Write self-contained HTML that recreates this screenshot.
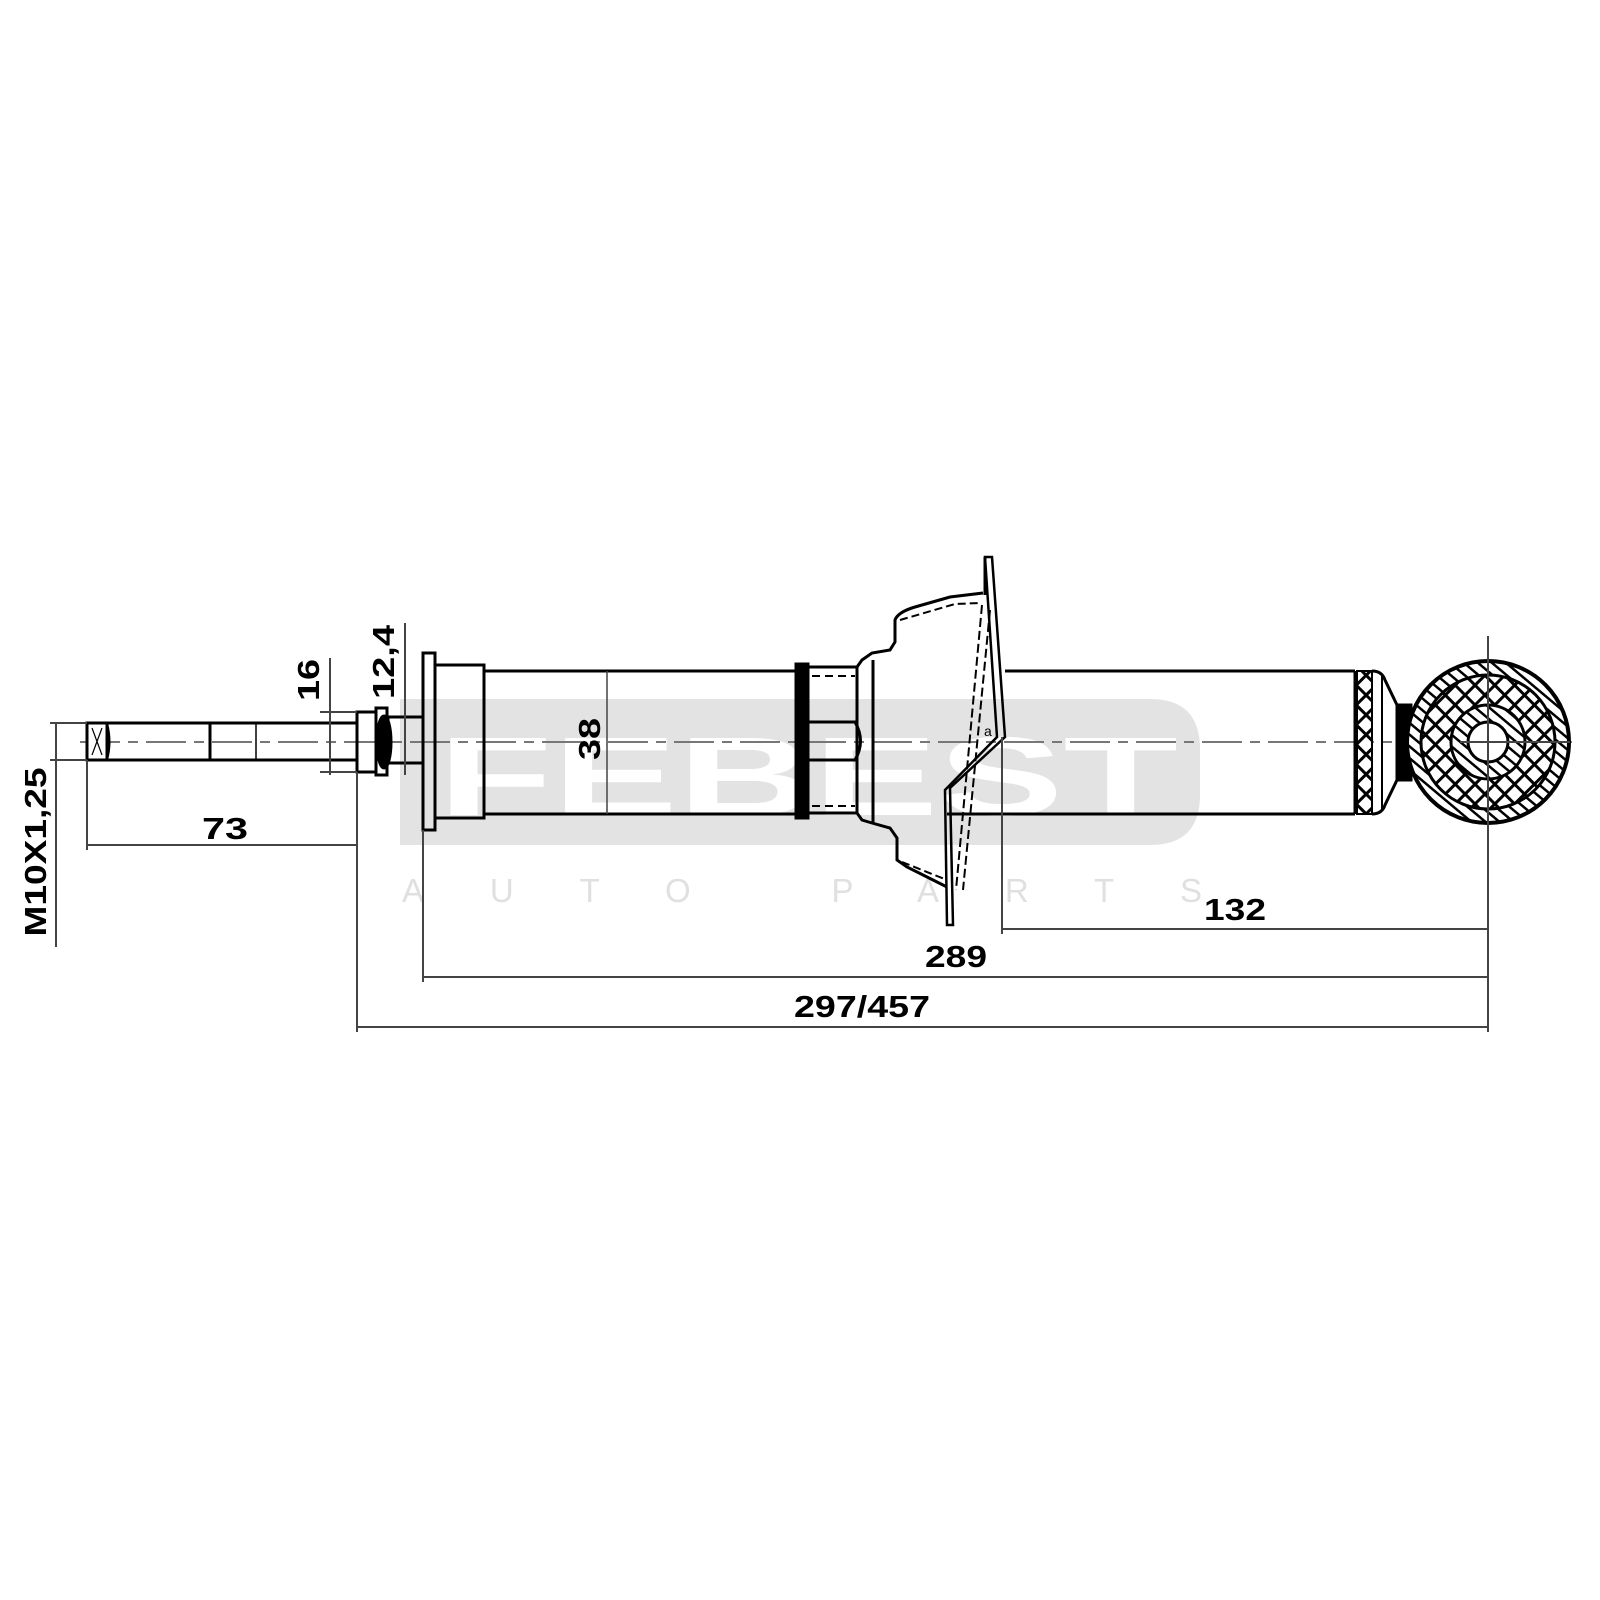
<!DOCTYPE html>
<html><head><meta charset="utf-8"><style>html,body{margin:0;padding:0;background:#fff}svg{display:block}</style></head>
<body>
<svg width="1600" height="1600" viewBox="0 0 1600 1600" xmlns="http://www.w3.org/2000/svg" font-family="Liberation Sans, sans-serif">
<defs>
<pattern id="ch" width="14" height="14" patternUnits="userSpaceOnUse" patternTransform="rotate(45)">
<rect width="14" height="14" fill="#fff"/>
<rect x="0" y="0" width="3" height="14" fill="#000"/><rect x="0" y="0" width="14" height="3" fill="#000"/>
</pattern>
<pattern id="dg" width="9" height="9" patternUnits="userSpaceOnUse" patternTransform="rotate(-50)">
<rect width="9" height="9" fill="#fff"/><rect width="2.5" height="9" fill="#000"/>
</pattern>
</defs>
<!-- watermark -->
<path d="M400 699 H1150 Q1200 699 1200 749 V795 Q1200 845 1150 845 H400 Z" fill="#e3e3e3"/>
<text x="438" y="815" font-size="112" font-weight="bold" fill="#fff" textLength="740" lengthAdjust="spacingAndGlyphs">FEBEST</text>
<text x="402" y="902" font-size="33" fill="#e0e0e0" textLength="800" lengthAdjust="spacing">AUTO  PARTS</text>

<!-- centerline -->
<line x1="80" y1="742" x2="1580" y2="742" stroke="#777" stroke-width="2" stroke-dasharray="40 8 10 8"/>

<g fill="none" stroke="#000" stroke-width="3">
<!-- rod -->
<rect x="87" y="723" width="20" height="37" fill="#fff"/>
<path d="M87 723 H357 M87 760 H357"/>
<path d="M107 723 Q112 742 107 760" stroke-width="2"/>
<line x1="210" y1="723" x2="210" y2="760"/>
<line x1="256" y1="723" x2="256" y2="760" stroke-width="1.5"/>
<line x1="92" y1="728" x2="102" y2="755" stroke-width="1.2"/><line x1="102" y1="728" x2="92" y2="755" stroke-width="1.2"/>
<rect x="357" y="712" width="19" height="60"/>
<rect x="376" y="708" width="11" height="67"/>
<ellipse cx="384" cy="742" rx="7" ry="26" fill="#000"/>
<rect x="388" y="717" width="35" height="46"/>
<rect x="423" y="653" width="12" height="177"/>
<rect x="435" y="665" width="49" height="153"/>
<!-- body -->
<path d="M484 671 H796 M484 814 H796"/>
<rect x="796" y="664" width="12" height="154" fill="#000"/>
<path d="M808 667 H857 V813 H808"/>
<path d="M812 676 H855 M812 806 H855" stroke-dasharray="8 5" stroke-width="2"/>
<path d="M808 722 H855 Q866 741 855 760 H808"/>
<!-- bowl -->
<path d="M857 667 L862 660 L872 653 L890 650 L895 642 V620 Q898 612 915 607 L950 597 L983 593"/>
<path d="M857 813 L862 820 L872 823 L890 828 L897 838 V860 L907 867 L947 887"/>
<line x1="873" y1="660" x2="873" y2="823"/>
<path d="M900 620 L955 604 L980 603 M902 862 L947 880" stroke-dasharray="8 4" stroke-width="2"/>
<!-- plate -->
<path d="M985 557 H992 L1005 737 L950 788 L953 925 H947 L945 790 L997 737 Z" stroke-width="2.5"/>
<path d="M985 557 V595" />
<path d="M982 605 L956 890 M990 610 L963 890" stroke-dasharray="9 4" stroke-width="2"/>
<text x="984" y="736" font-size="14" fill="#000" stroke="none">a</text>
<!-- lower body -->
<path d="M1005 671 H1355 M947 814 H1355"/>
<line x1="1355" y1="671" x2="1355" y2="814"/>
<rect x="1357" y="671" width="15" height="143" fill="url(#ch)" stroke-width="2"/>
<path d="M1372 671 Q1382 671 1385 680 L1397 705 H1410 V780 H1397 L1385 805 Q1382 814 1372 814"/>
<line x1="1382" y1="676" x2="1382" y2="810" stroke-width="2"/>
<rect x="1397" y="705" width="14" height="75" fill="#000"/>
</g>
<!-- eye -->
<circle cx="1488" cy="742" r="81" fill="url(#dg)" stroke="#000" stroke-width="4"/>
<circle cx="1488" cy="742" r="67" fill="url(#ch)" stroke="#000" stroke-width="3"/>
<circle cx="1488" cy="742" r="37" fill="url(#dg)" stroke="#000" stroke-width="3"/>
<circle cx="1488" cy="742" r="20" fill="#fff" stroke="#000" stroke-width="3"/>
<line x1="1488" y1="636" x2="1488" y2="1032" stroke="#444" stroke-width="2"/>
<line x1="1460" y1="742" x2="1570" y2="742" stroke="#444" stroke-width="2"/>

<!-- dimension lines -->
<g stroke="#444" stroke-width="2" fill="none">
<line x1="87" y1="760" x2="87" y2="850"/>
<line x1="357" y1="772" x2="357" y2="1032"/>
<line x1="423" y1="830" x2="423" y2="982"/>
<line x1="1002" y1="737" x2="1002" y2="934"/>
<line x1="87" y1="845" x2="357" y2="845"/>
<line x1="50" y1="723" x2="87" y2="723"/><line x1="50" y1="760" x2="87" y2="760"/>
<line x1="56" y1="723" x2="56" y2="947"/>
<line x1="330" y1="658" x2="330" y2="775"/>
<line x1="320" y1="712" x2="357" y2="712"/><line x1="320" y1="772" x2="357" y2="772"/>
<line x1="405" y1="623" x2="405" y2="775"/>
<line x1="607" y1="671" x2="607" y2="814" stroke-width="1.5"/>
<line x1="1002" y1="929" x2="1488" y2="929"/>
<line x1="423" y1="977" x2="1488" y2="977"/>
<line x1="357" y1="1027" x2="1488" y2="1027"/>
</g>
<g font-weight="bold" font-size="31" fill="#000" text-anchor="middle">
<text x="225" y="839" textLength="46" lengthAdjust="spacingAndGlyphs">73</text>
<text x="1235" y="920" textLength="62" lengthAdjust="spacingAndGlyphs">132</text>
<text x="956" y="967" textLength="62" lengthAdjust="spacingAndGlyphs">289</text>
<text x="862" y="1017" textLength="136" lengthAdjust="spacingAndGlyphs">297/457</text>
<text transform="translate(46 852) rotate(-90)" textLength="169" lengthAdjust="spacingAndGlyphs">M10X1,25</text>
<text transform="translate(319 680) rotate(-90)" textLength="42" lengthAdjust="spacingAndGlyphs">16</text>
<text transform="translate(394 662) rotate(-90)" textLength="74" lengthAdjust="spacingAndGlyphs">12,4</text>
<text transform="translate(600 739) rotate(-90)" textLength="42" lengthAdjust="spacingAndGlyphs">38</text>
</g>
</svg>
</body></html>
